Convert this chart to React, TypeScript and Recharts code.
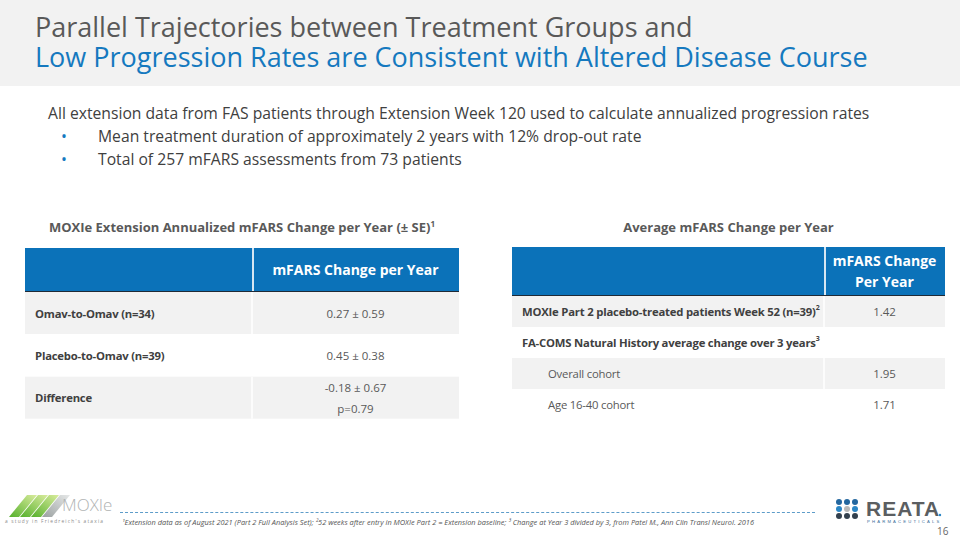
import React from 'react';
import { BarChart, Bar, XAxis, YAxis } from 'recharts';

// ---- slide text ----
const titleLine1 = 'Parallel Trajectories between Treatment Groups and';
const titleLine2 = 'Low Progression Rates are Consistent with Altered Disease Course';
const introText =
  'All extension data from FAS patients through Extension Week 120 used to calculate annualized progression rates';
const bullets = [
  'Mean treatment duration of approximately 2 years with 12% drop-out rate',
  'Total of 257 mFARS assessments from 73 patients',
];

// ---- table 1: MOXIe extension ----
const t1Title = 'MOXIe Extension Annualized mFARS Change per Year (± SE)';
const t1Header = ['mFARS Change per Year'];
const t1Labels = ['Omav-to-Omav (n=34)', 'Placebo-to-Omav (n=39)', 'Difference'];
const t1Values = [['0.27 ± 0.59'], ['0.45 ± 0.38'], ['-0.18 ± 0.67', 'p=0.79']];

// ---- table 2: average change ----
const t2Title = 'Average mFARS Change per Year';
const t2Header = ['mFARS Change', 'Per Year'];
const t2Labels = [
  'MOXIe Part 2 placebo-treated patients Week 52 (n=39)',
  'FA-COMS Natural History average change over 3 years',
  'Overall cohort',
  'Age 16-40 cohort',
];
const t2Sups = ['2', '3', '', ''];
const t2Values = [['1.42'], [], ['1.95'], ['1.71']];
const t2Sub = [false, false, true, true];

const footnote =
  '¹Extension data as of August 2021 (Part 2 Full Analysis Set); ²52 weeks after entry in MOXIe Part 2 = Extension baseline; ³ Change at Year 3 divided by 3, from Patel M., Ann Clin Transl Neurol. 2016';

const FONT = '"Open Sans", sans-serif';
const BLUE = '#0b72b9';
const GRAY_ROW = '#f2f2f2';

const RowShape = (props: any) => {
  const { x, y, width, height, payload, index, split } = props;
  const fill = index % 2 === 0 ? GRAY_ROW : '#ffffff';
  const valX = x + split + (width - split) / 2;
  const lines: string[] = payload.values;
  const cy = y + height / 2;
  return (
    <g>
      <rect x={x} y={y} width={width} height={height} fill={fill} />
      <line x1={x + split} x2={x + split} y1={y} y2={y + height} stroke="#ffffff" strokeWidth={1.5} />
      <text
        x={x + (payload.sub ? 36 : 10)}
        y={cy}
        dominantBaseline="central"
        fontFamily={FONT}
        fontSize={11.3}
        letterSpacing={-0.2}
        fontWeight={payload.sub ? 400 : 700}
        fill={payload.sub ? '#595959' : '#404040'}
      >
        {payload.label}
        {payload.sup ? (
          <tspan fontSize={7} dy={-5}>
            {payload.sup}
          </tspan>
        ) : null}
      </text>
      {lines.map((l, i) => (
        <text
          key={i}
          x={valX}
          y={cy + (i - (lines.length - 1) / 2) * 21}
          textAnchor="middle"
          dominantBaseline="central"
          fontFamily={FONT}
          fontSize={11.5}
          fill="#595959"
        >
          {l}
        </text>
      ))}
    </g>
  );
};

const TableBody = ({ rows, width, height, split }: any) => (
  <BarChart
    width={width}
    height={height}
    data={rows}
    layout="vertical"
    margin={{ top: 0, right: 0, bottom: 0, left: 0 }}
    barCategoryGap={0}
    barGap={0}
  >
    <XAxis type="number" hide domain={[0, 1]} />
    <YAxis type="category" dataKey="label" hide />
    <Bar dataKey="span" isAnimationActive={false} shape={(p: any) => <RowShape {...p} split={split} />} />
  </BarChart>
);

const Header = ({ left, top, width, height, split, lines }: any) => (
  <div
    style={{
      position: 'absolute',
      left,
      top,
      width,
      height,
      background: BLUE,
      borderBottom: '1.5px solid #1f2a36',
      boxSizing: 'border-box',
    }}
  >
    <div style={{ position: 'absolute', left: split, top: 0, width: 1.5, height: '100%', background: '#d6e6f2' }} />
    <div
      style={{
        position: 'absolute',
        left: split,
        top: 0,
        width: width - split,
        height: '100%',
        display: 'flex',
        flexDirection: 'column',
        alignItems: 'center',
        justifyContent: 'center',
        color: '#fff',
        fontFamily: FONT,
        fontWeight: 700,
        fontSize: 14,
        lineHeight: '21px',
      }}
    >
      {lines.map((l: string) => (
        <div key={l}>{l}</div>
      ))}
    </div>
  </div>
);

const t1Rows = t1Labels.map((label, i) => ({ label, values: t1Values[i], span: 1 }));
const t2Rows = t2Labels.map((label, i) => ({
  label,
  sup: t2Sups[i],
  values: t2Values[i],
  sub: t2Sub[i],
  span: 1,
}));

const MoxieLogo = () => (
  <svg style={{ position: 'absolute', left: 0, top: 490 }} width={120} height={40}>
    <defs>
      <linearGradient id="mg" x1="0" y1="1" x2="1" y2="0">
        <stop offset="0" stopColor="#55b02c" />
        <stop offset="1" stopColor="#d9ec9c" />
      </linearGradient>
      <linearGradient id="mg2" x1="0" y1="1" x2="1" y2="0">
        <stop offset="0" stopColor="#9aa0a0" />
        <stop offset="1" stopColor="#e6e8e8" />
      </linearGradient>
    </defs>
    {[0, 1, 2, 3].map((i) => (
      <polygon
        key={i}
        points={`${9 + i * 11},27 ${19 + i * 11},27 ${37 + i * 11},5 ${27 + i * 11},5`}
        fill={i === 3 ? 'url(#mg2)' : 'url(#mg)'}
      />
    ))}
    <text x={62} y={21} fontFamily={FONT} fontSize={17} fill="#b0b3b3" fontWeight={300}>
      MOXIe
    </text>
    <text x={5} y={33} fontFamily={FONT} fontSize={4.8} fill="#8a8a8a" letterSpacing={1.2}>
      a study in Friedreich's ataxia
    </text>
  </svg>
);

const dotColors = [
  ['#24679f', '#24679f', '#24679f'],
  ['#2b86c5', '#b9b9b9', '#2b86c5'],
  ['#33414f', '#33414f', '#33414f'],
];

const ReataLogo = () => (
  <svg style={{ position: 'absolute', left: 830, top: 494 }} width={130} height={46}>
    {dotColors.map((row, r) =>
      row.map((c, k) => <circle key={`${r}-${k}`} cx={9 + k * 8} cy={8 + r * 7} r={3} fill={c} />)
    )}
    <text x={36} y={22} fontFamily="Liberation Sans, Arial, sans-serif" fontWeight={700} fontSize={21} fill="#5b5e61" letterSpacing={1}>
      REATA
    </text>
    <circle cx={110} cy={21} r={1.2} fill="#2b86c5" />
    <text x={37} y={29} fontFamily="Liberation Sans, Arial, sans-serif" fontSize={4.2} fill="#3a6c9a" letterSpacing={2.2}>
      PHARMACEUTICALS
    </text>
    <text x={107} y={41} fontFamily={FONT} fontSize={10} fill="#666">
      16
    </text>
  </svg>
);

const titleStyle: React.CSSProperties = {
  position: 'absolute',
  left: 35,
  fontSize: 27,
  lineHeight: '30px',
  height: 30,
  whiteSpace: 'nowrap',
};

export default function App() {
  return (
    <div
      style={{
        position: 'absolute',
        left: 0,
        top: 0,
        width: 960,
        height: 540,
        background: '#fff',
        overflow: 'hidden',
        fontFamily: FONT,
      }}
    >
      {/* title band */}
      <div style={{ position: 'absolute', left: 0, top: 0, width: 960, height: 86, background: '#f2f2f2' }} />
      <div style={{ ...titleStyle, top: 12, color: '#595959' }}>{titleLine1}</div>
      <div style={{ ...titleStyle, top: 42, color: '#1579bf' }}>{titleLine2}</div>

      {/* intro text */}
      <div style={{ position: 'absolute', left: 48, top: 102, fontSize: 15.7, lineHeight: '23px', color: '#404040', whiteSpace: 'nowrap' }}>
        <div>{introText}</div>
        {bullets.map((b) => (
          <div key={b} style={{ position: 'relative', paddingLeft: 50 }}>
            <span style={{ position: 'absolute', left: 13, color: '#1579bf' }}>•</span>
            {b}
          </div>
        ))}
      </div>

      {/* table titles */}
      <div style={{ position: 'absolute', left: 25, width: 434, top: 218, textAlign: 'center', fontSize: 13, fontWeight: 700, color: '#595959' }}>
        {t1Title}
        <sup style={{ fontSize: 8 }}>1</sup>
      </div>
      <div style={{ position: 'absolute', left: 512, width: 433, top: 218, textAlign: 'center', fontSize: 13, fontWeight: 700, color: '#595959' }}>
        {t2Title}
      </div>

      {/* table 1 */}
      <Header left={25} top={248} width={434} height={44} split={227} lines={t1Header} />
      <div style={{ position: 'absolute', left: 25, top: 292 }}>
        <TableBody rows={t1Rows} width={434} height={127} split={227} />
      </div>

      {/* table 2 */}
      <Header left={512} top={247} width={433} height={49} split={312} lines={t2Header} />
      <div style={{ position: 'absolute', left: 512, top: 296 }}>
        <TableBody rows={t2Rows} width={433} height={124} split={312} />
      </div>

      {/* footer */}
      <div style={{ position: 'absolute', left: 120, top: 512, width: 695, borderTop: '1px dashed #5d9cc9' }} />
      <div style={{ position: 'absolute', left: 122, top: 517, fontSize: 7.4, fontStyle: 'italic', color: '#555', whiteSpace: 'nowrap' }}>
        {footnote}
      </div>
      <MoxieLogo />
      <ReataLogo />
    </div>
  );
}
